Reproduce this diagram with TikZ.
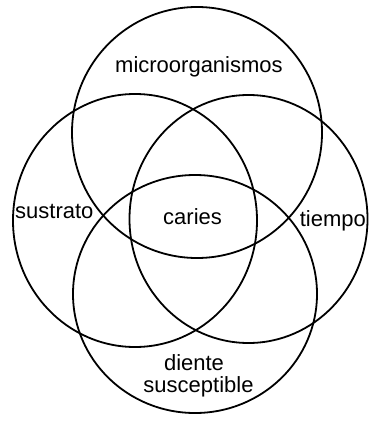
\documentclass[tikz,border=0pt]{standalone}
\usepackage{fontspec}
\setmainfont{Liberation Sans}
\usetikzlibrary{positioning}

\begin{document}
\begin{tikzpicture}[x=1pt, y=-1pt,
    ring/.style={draw=black, line width=1.8pt},
    lbl/.style={font=\fontsize{22}{20}\selectfont, inner sep=0pt, anchor=base west}]
\useasboundingbox (0,0) rectangle (368,428);

% --- The four circles ---
\draw[ring] (197,132.5) ellipse [x radius=125pt, y radius=125.5pt]; % top
\draw[ring] (135,220.5) ellipse [x radius=122pt, y radius=126.5pt]; % left
\draw[ring] (248.5,219) ellipse [x radius=119pt, y radius=124pt];   % right
\draw[ring] (195,294) ellipse [x radius=122pt, y radius=119pt];     % bottom

% --- Labels ---
\node[lbl] (micro) at (115,73) {microorganismos};
\node[lbl] (sustrato) at (15,218) {sustrato};
\node[lbl] (caries) at (163,224) {caries};
\node[lbl, anchor=base east] (tiempo) at (366,226) {tiempo};
\node[lbl, anchor=base] (diente) at (194,370) {diente};
\node[lbl, anchor=base] (suscep) at (198.5,392) {susceptible};
\end{tikzpicture}
\end{document}
